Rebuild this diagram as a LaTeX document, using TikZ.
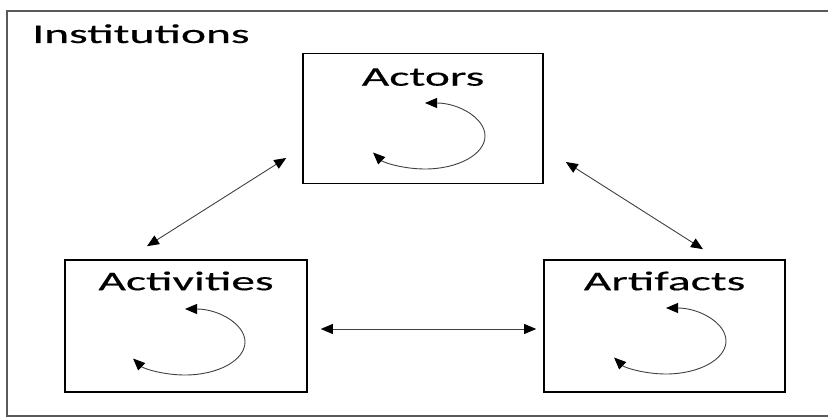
\documentclass[tikz,border=0pt]{standalone}
\usepackage{fontspec}
\newfontfamily\diagfont[FakeStretch=1.76,FakeBold=0.4]{Carlito}
\usetikzlibrary{arrows.meta, positioning}
\tikzset{
  instbox/.style={rectangle, draw=black, line width=1.6pt,
                  minimum width=240pt, minimum height=130pt, inner sep=0pt},
  insttitle/.style={font=\diagfont\fontsize{27}{30}\selectfont, inner sep=0pt},
  instframe/.style={draw=black!65, line width=1.5pt},
  insttip/.style={Triangle[length=12pt,width=10pt,color=black]},
  instarrow/.style={{Triangle[length=12pt,width=10pt,color=black]}-{Triangle[length=12pt,width=10pt,color=black]},
                    draw=black!75, line width=0.9pt},
  instloop/.style={instarrow},
}

\begin{document}
\begin{tikzpicture}[x=1pt, y=1pt]
  \useasboundingbox (0,0) rectangle (828,418);
  \clip (0,0) rectangle (828,418);
  % outer frame
  \draw[instframe] (7,2) rectangle (860,407);
  \node[insttitle, anchor=base west] (institutions) at (32,375) {Institutions};

  \node[instbox] (actors) at (423,299.5) {};
  \node[instbox, minimum width=242pt, minimum height=132pt] (activities) at (186,92) {};
  \node[instbox, minimum width=241pt, minimum height=132pt] (artifacts) at (664.5,92) {};

  \node[insttitle, anchor=base] (actorsTitle) at ([yshift=-33pt]actors.north) {Actors};
  \node[insttitle, anchor=base] (activitiesTitle) at ([yshift=-31pt]activities.north) {Activities};
  \node[insttitle, anchor=base] (artifactsTitle) at ([yshift=-31pt]artifacts.north) {Artifacts};

  % loops
  \draw[instloop] ([shift={(2,15.5)}]actors.center)
    arc[start angle=90, end angle=-150, x radius=60pt, y radius=33pt];
  \draw[instloop] ([shift={(-1,17)}]activities.center)
    arc[start angle=90, end angle=-150, x radius=60pt, y radius=33pt];
  \draw[instloop] ([shift={(1.5,18)}]artifacts.center)
    arc[start angle=90, end angle=-150, x radius=60pt, y radius=33pt];

  % links
  \draw[instarrow] ([shift={(-39,13)}]activities.north) -- ([shift={(-16,-39.5)}]actors.west);
  \draw[instarrow] ([shift={(22,-43.5)}]actors.east) -- ([shift={(38.5,10)}]artifacts.north);
  \draw[instarrow] ([shift={(13,-3)}]activities.east) -- ([shift={(-7,-3)}]artifacts.west);
\end{tikzpicture}
\end{document}
